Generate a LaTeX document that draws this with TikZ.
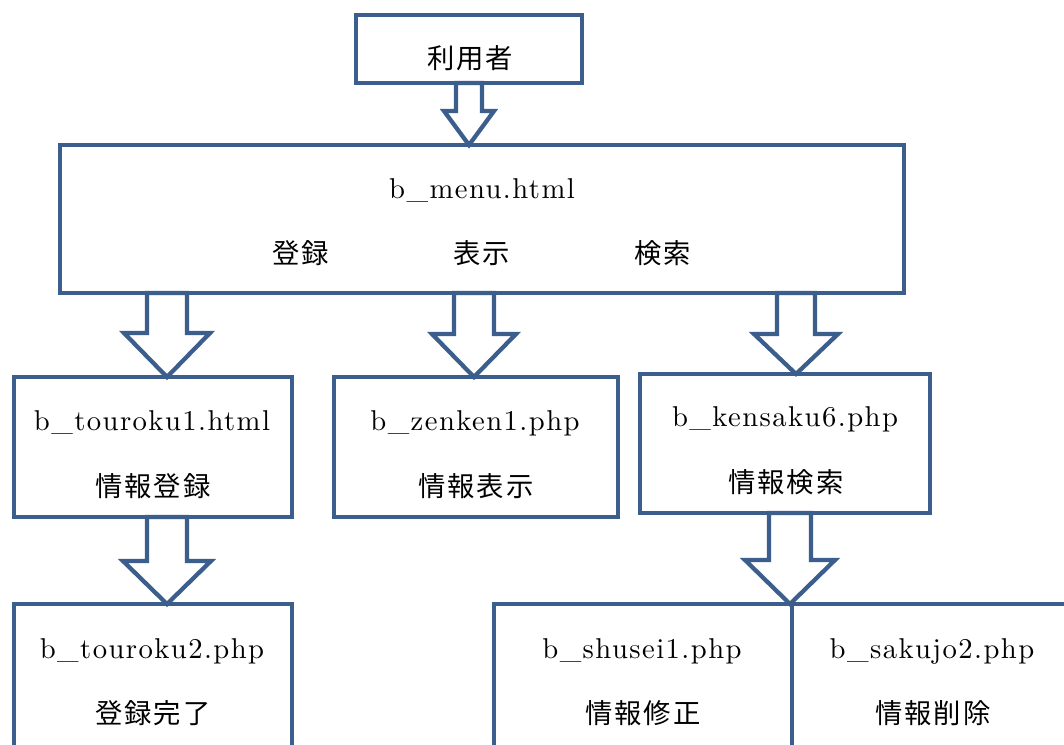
\documentclass[tikz,border=0pt]{standalone}
\usepackage{fontspec}
\setmainfont{Latin Modern Roman}
\newfontfamily\latfont{lmroman10-regular.otf}[LetterSpace=5]
\newfontfamily\jpfont{Noto Sans CJK JP}[LetterSpace=7]
\usetikzlibrary{calc}
\definecolor{frame}{HTML}{3B5E8C}

\tikzset{
  box/.style 2 args={draw=frame, line width=3.2pt, fill=white, inner sep=0pt,
    outer sep=0pt, minimum width=#1*0.75pt, minimum height=#2*0.75pt},
  lat/.style={anchor=base, inner sep=0pt, font=\latfont\fontsize{21.5}{26}\selectfont},
  jp/.style={anchor=base, inner sep=0pt, font=\jpfont\fontsize{20.5}{24}\selectfont},
  barrow/.style={draw=frame, line width=3.2pt, fill=white, line join=miter},
}

% hollow down arrow: #1 centre x, #2 half shaft, #3 half head,
% #4 head length, #5 source node, #6 target node
\newcommand\flowarrow[6]{%
  \coordinate (s) at (#1,0 |- #5.south);
  \coordinate (t) at (#1,0 |- #6.north);
  \coordinate (h) at ($(t)+(0,-#4)$);
  \draw[barrow] ($(s)+(-#2,0)$) -- ($(h)+(-#2,0)$) -- ($(h)+(-#3,0)$)
    -- (t) -- ($(h)+(#3,0)$) -- ($(h)+(#2,0)$) -- ($(s)+(#2,0)$) -- cycle;
}

\begin{document}
\begin{tikzpicture}[x=0.75pt, y=-0.75pt]
\useasboundingbox (0,0) rectangle (1064,744);

% boxes
\node[box={226}{68}]  (user)     at (469,49)  {};
\node[box={844}{148}] (menu)     at (482,219) {};
\node[box={278}{140}] (touroku1) at (153,447) {};
\node[box={284}{140}] (zenken1)  at (476,447) {};
\node[box={290}{139}] (kensaku6) at (785,443.5) {};
\node[box={278}{200}] (touroku2) at (153,704) {};
\node[box={298}{200}] (shusei1)  at (643,704) {};
\node[box={308}{200}] (sakujo2)  at (946,704) {};

% arrows
\flowarrow{469}{13}{25}{34}{user}{menu}
\flowarrow{167}{20}{43}{44}{menu}{touroku1}
\flowarrow{474}{20}{42}{43}{menu}{zenken1}
\flowarrow{796}{19}{42}{40}{menu}{kensaku6}
\flowarrow{167}{20}{44}{43}{touroku1}{touroku2}
\flowarrow{790}{21}{45}{44}{kensaku6}{shusei1}

% texts
\node[jp]  (tUser)  at (470,68)  {利用者};
\node[lat] (tMenu)  at (482,198) {b\_menu.html};
\node[jp]  (tM1)    at (301,263) {登録};
\node[jp]  (tM2)    at (482,263) {表示};
\node[jp]  (tM3)    at (663,263) {検索};

\node[lat] (tT1a) at (152,430) {b\_touroku1.html};
\node[jp]  (tT1b) at (153,496) {情報登録};
\node[lat] (tZ1a) at (475,430) {b\_zenken1.php};
\node[jp]  (tZ1b) at (476,496) {情報表示};
\node[lat] (tK6a) at (785,426) {b\_kensaku6.php};
\node[jp]  (tK6b) at (786,492) {情報検索};

\node[lat] (tT2a) at (152,658) {b\_touroku2.php};
\node[jp]  (tT2b) at (153,723) {登録完了};
\node[lat] (tS1a) at (642,658) {b\_shusei1.php};
\node[jp]  (tS1b) at (643,723) {情報修正};
\node[lat] (tS2a) at (932,658) {b\_sakujo2.php};
\node[jp]  (tS2b) at (933,723) {情報削除};
\end{tikzpicture}
\end{document}
